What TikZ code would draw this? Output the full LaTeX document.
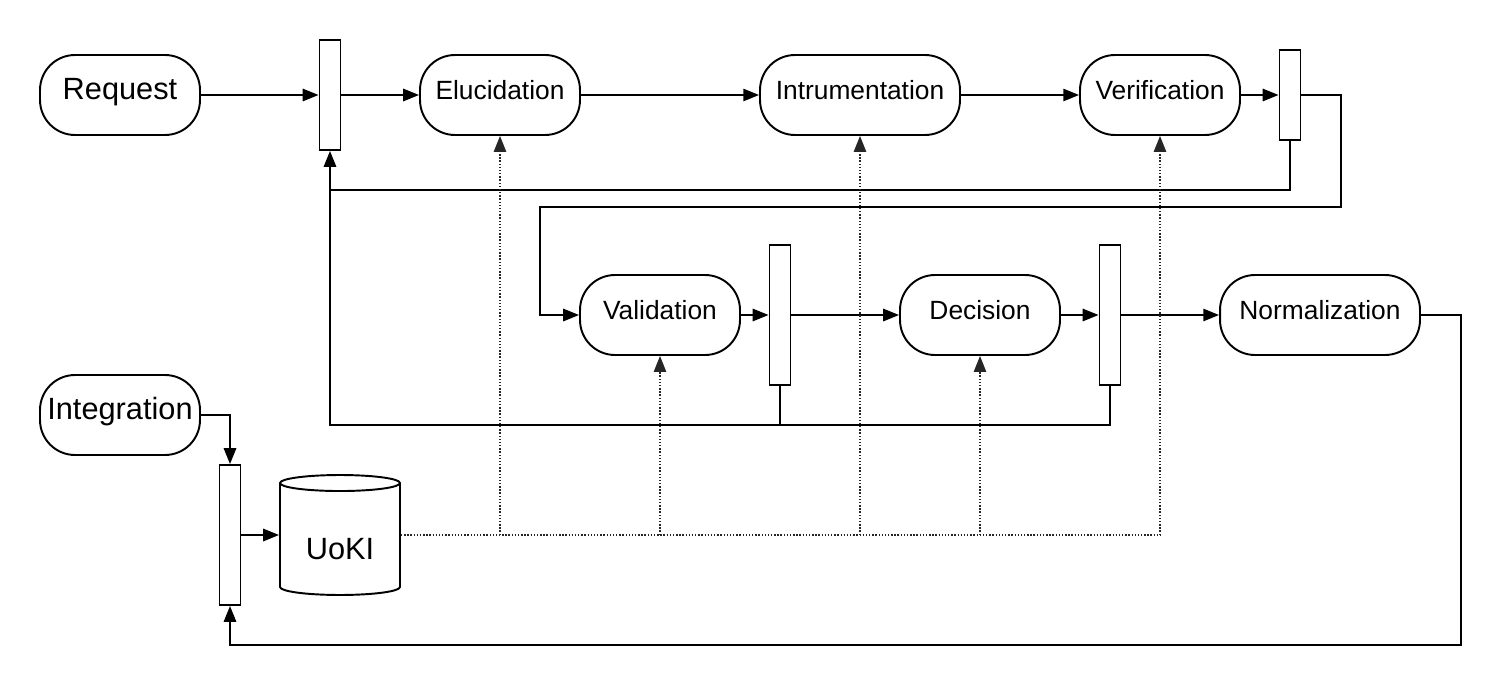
\documentclass[tikz,border=0pt]{standalone}
\usepackage{fontspec}
\setmainfont{Liberation Sans}
\usetikzlibrary{arrows.meta, positioning, shapes.geometric}

\begin{document}
\begin{tikzpicture}[x=0.02cm, y=-0.02cm, >={Triangle[length=9pt, width=7pt]}, line width=1.1pt,
  every node/.style={font=\fontsize{15}{18}\selectfont},
  proc/.style={draw, rounded corners=0.7cm, minimum width=3.2cm, minimum height=1.6cm, inner sep=2pt,
    text height=0.75em, text depth=0.24em},
  bigtext/.style={font=\fontsize{17.5}{20}\selectfont},
  bar/.style={draw, fill=white, minimum width=0.42cm, inner sep=0pt},
  info/.style={densely dotted, line width=0.8pt, black!85}]
\useasboundingbox (0,0) rectangle (1501,686);

% top row
\node[proc, bigtext] (req) at (120,95) {Request};
\node[bar, minimum height=2.2cm] (b1) at (330,95) {};
\node[proc] (eluc) at (500,95) {Elucidation};
\node[proc, minimum width=4cm] (instr) at (860,95) {Intrumentation};
\node[proc] (verif) at (1160,95) {Verification};
\node[bar, minimum height=1.8cm] (b2) at (1290,95) {};

% middle row
\node[proc] (valid) at (660,315) {Validation};
\node[bar, minimum height=2.8cm] (b3) at (780,315) {};
\node[proc] (dec) at (980,315) {Decision};
\node[bar, minimum height=2.8cm] (b4) at (1110,315) {};
\node[proc, minimum width=4cm] (norm) at (1320,315) {Normalization};

% bottom
\node[proc, bigtext] (integ) at (120,415) {Integration};
\node[bar, minimum height=2.8cm] (b5) at (230,535) {};
\node[draw, cylinder, shape border rotate=90, aspect=0.2, minimum width=2.4cm, minimum height=2.4cm,
  anchor=shape center, bigtext, label={[bigtext, yshift=-0.16cm]center:UoKI}] (uoki) at (340,535) {\phantom{UoKI}};

\coordinate (r1) at (1341,207);
\coordinate (l1) at (540,207);
\coordinate (fb1) at (330,190);
\coordinate (fb2) at (330,425);
\coordinate (r2) at (1461,645);

\draw[->] (req) -- (b1);
\draw[->] (b1) -- (eluc);
\draw[->] (eluc) -- (instr);
\draw[->] (instr) -- (verif);
\draw[->] (verif) -- (b2);
\draw[->] (b2.east) -| (r1) -- (l1) |- (valid.west);
\draw (b2.south) |- (fb1);

\draw[->] (valid) -- (b3);
\draw[->] (b3) -- (dec);
\draw[->] (dec) -- (b4);
\draw[->] (b4) -- (norm);
\draw[->] (b4.south) |- (fb2) -- (b1.south);
\draw (b3.south) -- (b3.south |- fb2);

\draw[->] (norm.east) -| (r2) -| (b5.south);
\draw[->] (integ.east) -| (b5.north);
\draw[->] (b5) -- (b5 -| uoki.west);

% dotted links from the store
\draw[info] (uoki.east |- uoki.shape center) -- (uoki.shape center -| verif.south);
\foreach \n in {eluc, valid, instr, dec, verif}
  \draw[info, ->] (uoki.shape center -| \n.south) -- (\n.south);
\end{tikzpicture}
\end{document}
